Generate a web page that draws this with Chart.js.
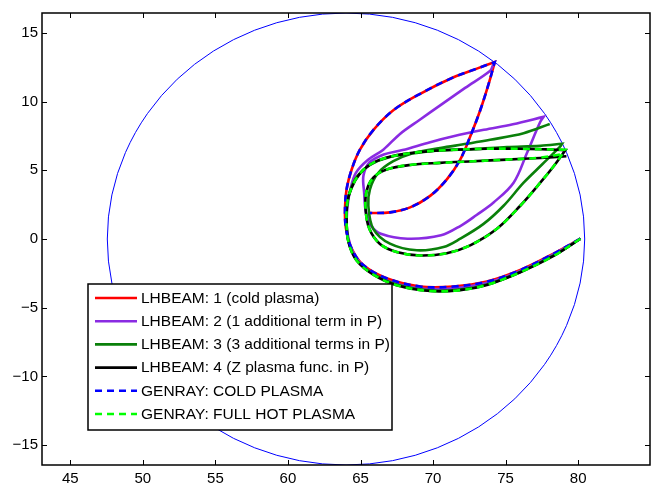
<!DOCTYPE html>
<html>
<head>
<meta charset="utf-8">
<script src="https://cdn.jsdelivr.net/npm/chart.js@4.4.1/dist/chart.umd.min.js"></script>
<style>
  html, body { margin: 0; padding: 0; background: #fff; }
</style>
</head>
<body>
<canvas id="rayChart" width="656" height="489"></canvas>
<script>
// ray paths in the poloidal plane, [R, Z] pairs
// (null = the trace runs hidden under another ray there)
const lhbeam1 = [[80.16,0.02],[78.31,-1.06],[76.01,-2.26],[73.71,-3.10],[71.41,-3.46],[69.11,-3.46],[66.80,-2.86],[65.19,-1.90],[64.39,-0.70],[64.00,0.74],[63.93,2.18],[64.04,3.62],[64.39,5.06],[64.96,6.50],[65.88,7.93],[67.26,9.37],[69.11,10.57],[71.41,11.77],[73.02,12.40],[74.25,12.88],[74.25,12.88],[73.83,11.29],[73.25,9.37],[72.56,7.46],[71.87,5.78],[70.95,4.34],[69.80,3.14],[68.42,2.30],[67.03,1.94],[65.65,1.89]];

const lhbeam2 = [[80.16,0.02],[78.31,-1.11],[76.01,-2.33],[73.71,-3.19],[71.41,-3.58],[69.11,-3.60],[66.80,-3.02],[65.31,-2.09],[64.46,-0.89],[64.09,0.50],[64.05,1.50],[64.11,2.42],[64.30,3.60],[64.68,4.81],[65.50,5.75],[66.57,6.50],[67.72,7.65],[69.11,8.70],[70.49,9.73],[72.21,11.00],[73.94,12.25],[74.12,12.63],
    null,
    [65.71,0.98],[65.37,1.94],[65.25,3.38],[65.20,4.60],[65.60,5.55],[66.60,6.15],[67.90,6.47],[69.80,7.05],[71.40,7.48],[73.50,7.95],[75.50,8.35],[77.62,8.89],[77.62,8.89],[77.39,8.53],[76.47,6.26],[75.55,4.10],[74.17,2.66],[73.00,1.75],[71.93,0.98],[70.55,0.27],[68.24,0.02],[66.40,0.38],[65.71,0.98],[65.45,1.70]];

const lhbeam3 = [[80.16,0.02],[78.31,-1.20],[76.01,-2.40],[73.71,-3.31],[71.87,-3.67],[69.80,-3.74],[67.49,-3.31],[65.88,-2.54],[64.73,-1.51],[64.18,-0.22],[64.04,1.22],[64.09,2.66],[64.32,3.62],[64.78,4.58],[65.65,5.39],[67.03,5.97],[69.11,6.30],[70.49,6.45],[72.79,6.54],[75.09,6.69],[77.39,6.78],[78.89,6.93],[78.89,6.93],[78.77,6.74],[77.51,5.42],[76.24,4.10],[74.86,2.42],[73.48,1.10],[71.87,0.02],[70.72,-0.58],[68.88,-0.82],[67.03,-0.34],[65.88,0.74],[65.54,2.42],[65.65,3.62],[66.23,4.82],[67.26,5.66],[68.65,6.26],[70.49,6.62],[72.33,6.93],[73.94,7.22],[76.24,7.70],[78.04,8.37]];

const lhbeam4 = [[80.16,0.02],[78.31,-1.23],[76.01,-2.42],[73.71,-3.34],[71.87,-3.72],[69.80,-3.79],[67.49,-3.36],[65.88,-2.59],[64.73,-1.56],[64.18,-0.27],[64.04,1.22],[64.09,2.66],[64.39,3.74],[64.92,4.70],[65.77,5.49],[67.15,6.02],[69.11,6.33],[71.41,6.50],[73.71,6.57],[76.01,6.57],[77.85,6.52],[79.12,6.47],[79.12,6.47],[78.31,5.30],[77.39,4.10],[76.01,2.42],[74.40,0.74],[72.56,-0.46],[70.95,-1.03],[69.11,-1.20],[67.49,-0.94],[66.34,-0.36],[65.61,0.74],[65.35,2.18],[65.42,3.50],[65.88,4.46],[66.80,5.06],[68.42,5.39],[70.49,5.54],[72.79,5.66],[75.09,5.78],[77.39,5.90],[79.19,6.02]];

const genrayCold = [[80.16,0.02],[78.31,-1.06],[76.01,-2.26],[73.71,-3.10],[71.41,-3.46],[69.11,-3.46],[66.80,-2.86],[65.19,-1.90],[64.39,-0.70],[64.00,0.74],[63.93,2.18],[64.04,3.62],[64.39,5.06],[64.96,6.50],[65.88,7.93],[67.26,9.37],[69.11,10.57],[71.41,11.77],[73.02,12.40],[74.25,12.88],[74.25,12.88],[73.83,11.29],[73.25,9.37],[72.56,7.46],[71.87,5.78],[70.95,4.34],[69.80,3.14],[68.42,2.30],[67.03,1.94],[65.65,1.89]];

const genrayHot = [[80.16,0.02],[78.31,-1.23],[76.01,-2.42],[73.71,-3.34],[71.87,-3.72],[69.80,-3.79],[67.49,-3.36],[65.88,-2.59],[64.73,-1.56],[64.18,-0.27],[64.04,1.22],[64.09,2.66],[64.39,3.74],[64.92,4.70],[65.77,5.49],[67.15,6.02],[69.11,6.33],[71.41,6.50],[73.71,6.57],[76.01,6.57],[77.85,6.52],[79.12,6.50],[79.12,6.50],[78.31,5.30],[77.39,4.10],[76.01,2.42],[74.40,0.74],[72.56,-0.46],[70.95,-1.03],[69.11,-1.20],[67.49,-0.94],[66.34,-0.36],[65.61,0.74],[65.35,2.18],[65.42,3.50],[65.88,4.46],[66.80,5.06],[68.42,5.39],[70.49,5.54],[72.79,5.66],[75.09,5.78],[77.39,5.92],[79.05,6.21]];

const rayLabels = ['LHBEAM: 1 (cold plasma)', 'LHBEAM: 2 (1 additional term in P)', 'LHBEAM: 3 (3 additional terms in P)', 'LHBEAM: 4 (Z plasma func. in P)', 'GENRAY: COLD PLASMA', 'GENRAY: FULL HOT PLASMA'];

// plasma boundary (circle) centre and minor radius
const boundaryR0 = 64.0;
const boundaryZ0 = 0.0;
const boundaryA = 16.45;

const xTicks = [45, 50, 55, 60, 65, 70, 75, 80];
const yTicks = [-15, -10, -5, 0, 5, 10, 15];

// gaps become NaN points so the line breaks there
const toXY = arr => arr.map(p => (p ? { x: p[0], y: p[1] } : { x: NaN, y: NaN }));
const fmt = v => (v < 0 ? '\u2212' + Math.abs(v) : String(v));

const FONT = "'Liberation Sans', Arial, Helvetica, sans-serif";

// boundary circle, axes box, inward ticks, legend
const matlabFrame = {
    id: 'matlabFrame',
    beforeDatasetsDraw(chart) {
        const { ctx, chartArea: ca, scales } = chart;
        const cx = scales.x.getPixelForValue(boundaryR0);
        const cy = scales.y.getPixelForValue(boundaryZ0);
        const rx = scales.x.getPixelForValue(boundaryR0 + boundaryA) - cx;
        const ry = cy - scales.y.getPixelForValue(boundaryZ0 + boundaryA);
        ctx.save();
        ctx.beginPath();
        ctx.rect(ca.left, ca.top, ca.right - ca.left, ca.bottom - ca.top);
        ctx.clip();
        ctx.beginPath();
        ctx.ellipse(cx, cy, rx, ry, 0, 0, Math.PI * 2);
        ctx.strokeStyle = '#0000ff';
        ctx.lineWidth = 1;
        ctx.stroke();
        ctx.restore();
    },
    afterDatasetsDraw(chart) {
        const { ctx, chartArea: ca, scales } = chart;
        ctx.save();
        ctx.strokeStyle = '#000';
        ctx.lineWidth = 1;
        // ticks
        ctx.beginPath();
        xTicks.forEach(v => {
            const px = Math.round(scales.x.getPixelForValue(v)) + 0.5;
            ctx.moveTo(px, ca.bottom); ctx.lineTo(px, ca.bottom - 5);
            ctx.moveTo(px, ca.top); ctx.lineTo(px, ca.top + 5);
        });
        yTicks.forEach(v => {
            const py = Math.round(scales.y.getPixelForValue(v)) + 0.5;
            ctx.moveTo(ca.left, py); ctx.lineTo(ca.left + 5, py);
            ctx.moveTo(ca.right, py); ctx.lineTo(ca.right - 5, py);
        });
        ctx.stroke();
        // box
        ctx.lineWidth = 1.5;
        ctx.strokeRect(ca.left, ca.top, ca.right - ca.left, ca.bottom - ca.top);

        // legend
        const lx = 88, ly = 284, lw = 304, lh = 146;
        ctx.fillStyle = '#fff';
        ctx.fillRect(lx, ly, lw, lh);
        ctx.lineWidth = 1.5;
        ctx.strokeStyle = '#000';
        ctx.strokeRect(lx, ly, lw, lh);
        ctx.font = '15.5px ' + FONT;
        ctx.textBaseline = 'middle';
        ctx.textAlign = 'left';
        chart.data.datasets.forEach((ds, i) => {
            const y = ly + 14 + i * 23.2;
            ctx.beginPath();
            ctx.setLineDash(ds.borderDash || []);
            ctx.strokeStyle = ds.borderColor;
            ctx.lineWidth = 2.6;
            ctx.moveTo(95, y); ctx.lineTo(137, y);
            ctx.stroke();
            ctx.setLineDash([]);
            ctx.fillStyle = '#000';
            ctx.fillText(ds.label, 141, y + 0.5);
        });
        ctx.restore();
    }
};

const colors = ['#ff0000', '#8a2be2', '#0a800a', '#000000', '#0000ff', '#00ff00'];
const paths = [lhbeam1, lhbeam2, lhbeam3, lhbeam4, genrayCold, genrayHot];
const dashes = [[], [], [], [], [7, 5], [7, 5]];
// later-listed series are drawn on top (lower order value = on top)
const drawOrder = [5, 4, 3, 2, 1, 0];

const rayChart = new Chart(document.getElementById('rayChart').getContext('2d'), {
    type: 'line',
    data: {
        datasets: paths.map((p, i) => ({
            label: rayLabels[i],
            data: toXY(p),
            borderColor: colors[i],
            backgroundColor: colors[i],
            borderWidth: 2.6,
            borderDash: dashes[i],
            pointRadius: 0,
            tension: 0.35,
            spanGaps: false,
            fill: false,
            order: drawOrder[i]
        }))
    },
    options: {
        responsive: false,
        animation: false,
        layout: { padding: { top: 7, right: 6, left: 0, bottom: 0 } },
        plugins: {
            legend: { display: false },
            tooltip: { enabled: false }
        },
        scales: {
            x: {
                type: 'linear',
                min: 43.05,
                max: 84.95,
                afterFit: s => { s.height = 24; },
                afterBuildTicks: s => { s.ticks = xTicks.map(v => ({ value: v })); },
                grid: { display: false, drawTicks: false },
                border: { display: false },
                ticks: {
                    padding: 5,
                    color: '#000',
                    font: { family: FONT, size: 15 },
                    maxRotation: 0,
                    callback: fmt
                }
            },
            y: {
                type: 'linear',
                min: -16.45,
                max: 16.45,
                afterFit: s => { s.width = 42; },
                afterBuildTicks: s => { s.ticks = yTicks.map(v => ({ value: v })); },
                grid: { display: false, drawTicks: false },
                border: { display: false },
                ticks: {
                    padding: 4,
                    color: '#000',
                    font: { family: FONT, size: 15 },
                    callback: fmt
                }
            }
        }
    },
    plugins: [matlabFrame]
});
</script>
</body>
</html>
